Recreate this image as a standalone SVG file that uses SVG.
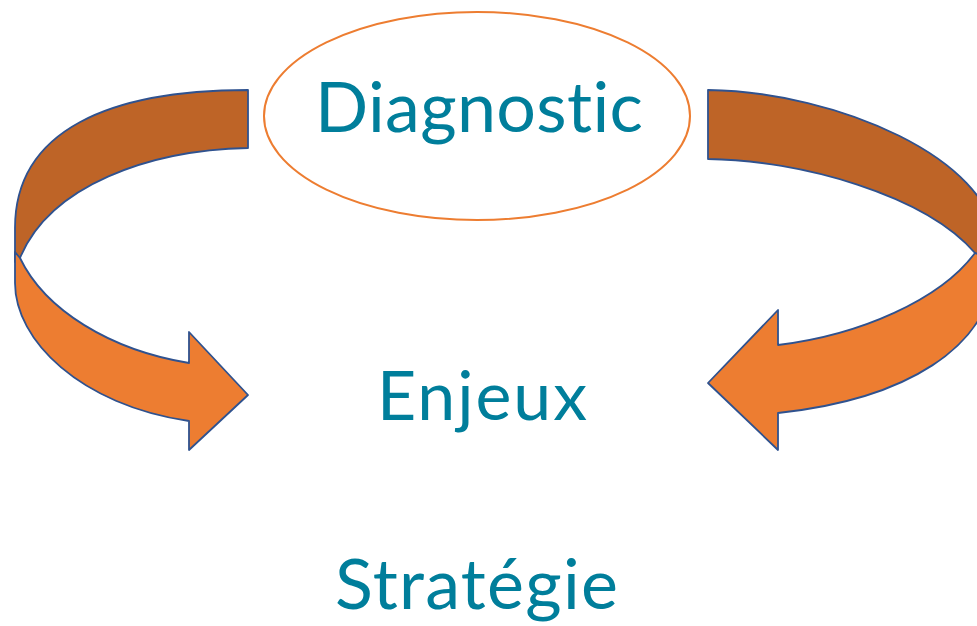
<svg xmlns="http://www.w3.org/2000/svg" width="977" height="626" viewBox="0 0 977 626">
<style>
.lbl{font-family:Lato,"Open Sans","DejaVu Sans",sans-serif;fill:#007E9B;text-anchor:middle;font-variant-ligatures:none;font-feature-settings:"liga" 0,"dlig" 0}
.back{fill:#BE6427;stroke:#2F528F;stroke-width:1.8;stroke-linejoin:round}
.front{fill:#ED7D31;stroke:#2F528F;stroke-width:1.8;stroke-linejoin:round}
</style>
<rect width="977" height="626" fill="#ffffff"/>
<g id="connectors">
<g id="arrow-left">
<path class="back" d="M248,90 L248,148 C150,150 50,185 20,258 L15,262 L15,228 C15,130 110,90 248,90 Z"/>
<path class="front" d="M20,258 C45,310 110,350 189,363 L189,332 L248,395 L189,450 L189,421 C80,405 15,340 15,283 L15,252 Z"/>
</g>
<g id="arrow-right">
<path class="back" d="M708,90 L708,159 C800,160 925,195 975,253 L995,262 L995,240 C990,160 840,92 708,90 Z"/>
<path class="front" d="M975,253 C940,300 860,335 778,345 L778,310 L708,383 L778,450 L778,413 C900,400 995,350 995,260 Z"/>
</g>
</g>
<g id="node-diagnostic">
<ellipse cx="477" cy="116" rx="213" ry="104" fill="#ffffff" stroke="#ED7D31" stroke-width="2"/>
<text class="lbl" x="479" y="132" font-size="70" textLength="328">Diagnostic</text>
</g>
<g id="node-enjeux">
<text class="lbl" x="482" y="420" font-size="68" textLength="210">Enjeux</text>
</g>
<g id="node-strategie">
<text class="lbl" x="476.5" y="609" font-size="70" textLength="283">Stratégie</text>
</g>
</svg>
